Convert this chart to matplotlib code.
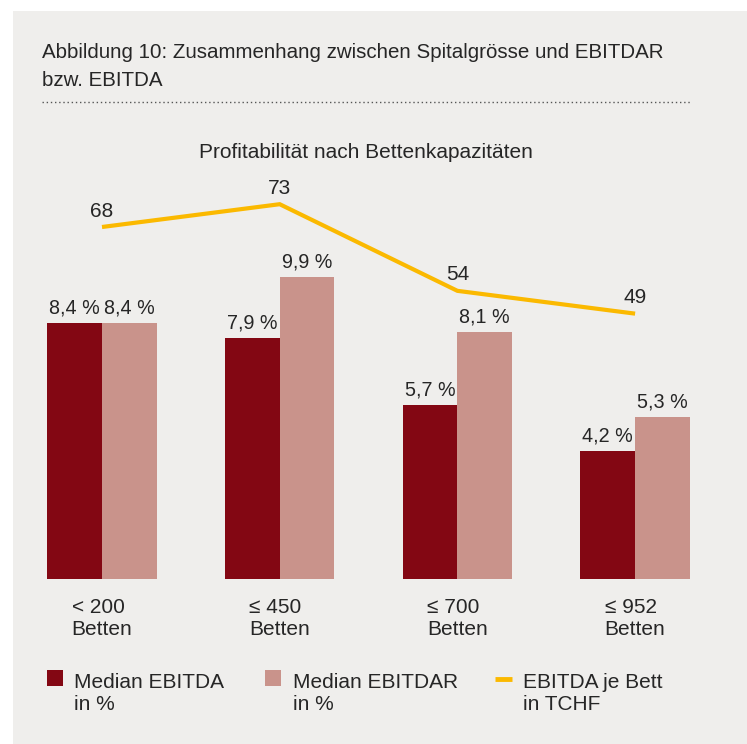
import matplotlib.pyplot as plt
from matplotlib.patches import Rectangle
from matplotlib.lines import Line2D
import numpy as np

categories = ["< 200\nBetten", "≤ 450\nBetten", "≤ 700\nBetten", "≤ 952\nBetten"]
ebitda = [8.4, 7.9, 5.7, 4.2]
ebitdar = [8.4, 9.9, 8.1, 5.3]
ebitda_bett = [68, 73, 54, 49]
legend_labels = ["Median EBITDA\nin %", "Median EBITDAR\nin %", "EBITDA je Bett\nin TCHF"]

dark = "#830713"
light = "#c9938b"
yellow = "#fbb900"
bg = "#efeeec"
txt = "#262626"
fs = 15

plt.rcParams["font.family"] = ["Liberation Sans", "DejaVu Sans"]

W, H = 747, 744
fig = plt.figure(figsize=(W / 100, H / 100), dpi=100)
fig.patch.set_facecolor("white")


def fx(px):
    return px / W


def fy(py):
    return 1 - py / H


# grey panel
fig.add_artist(Rectangle((fx(13), 0), 1 - fx(13), fy(11), transform=fig.transFigure,
                         facecolor=bg, edgecolor="none", zorder=-10))

fig.text(fx(42), fy(58), "Abbildung 10: Zusammenhang zwischen Spitalgrösse und EBITDAR",
         fontsize=14.8, color=txt, va="baseline", ha="left")
fig.text(fx(42), fy(86), "bzw. EBITDA", fontsize=14.8, color=txt, va="baseline", ha="left")
fig.add_artist(Line2D([fx(42), fx(692)], [fy(102), fy(102)], transform=fig.transFigure,
                      color="#555555", lw=1, linestyle=(0, (1, 2))))
fig.text(fx(366), fy(158), "Profitabilität nach Bettenkapazitäten", fontsize=fs,
         color=txt, va="baseline", ha="center")

ax = fig.add_axes([fx(30), fy(579), fx(720) - fx(30), fy(150) - fy(579)])
ax.set_facecolor("none")
x = np.arange(len(categories))
w = 0.308
ax.bar(x - w / 2, ebitda, w, color=dark)
ax.bar(x + w / 2, ebitdar, w, color=light)
for xi, v in zip(x, ebitda):
    ax.annotate(f"{v:.1f} %".replace(".", ","), (xi - w / 2, v), xytext=(0, 7),
                textcoords="offset points", ha="center", va="baseline",
                fontsize=14.2, color=txt)
for xi, v in zip(x, ebitdar):
    ax.annotate(f"{v:.1f} %".replace(".", ","), (xi + w / 2, v), xytext=(0, 7),
                textcoords="offset points", ha="center", va="baseline",
                fontsize=14.2, color=txt)

ax.set_xlim((30 - 102) / 177.7, (720 - 102) / 177.7)
ax.set_ylim(0, 429 / 30.5)
ax.set_xticks(x, categories)
for lab in ax.get_xticklabels():
    lab.set_multialignment("left")
    lab.set_fontsize(fs)
    lab.set_color(txt)
    lab.set_linespacing(1.15)
ax.tick_params(axis="x", length=0, pad=14)
ax.set_yticks([])
for s in ax.spines.values():
    s.set_visible(False)

ax2 = ax.twinx()
ax2.plot(x, ebitda_bett, color=yellow, lw=3, solid_capstyle="butt", solid_joinstyle="miter")
for xi, v in zip(x, ebitda_bett):
    ax2.annotate(str(v), (xi, v), xytext=(0, 7.5), textcoords="offset points",
                 ha="center", va="baseline", fontsize=fs, color=txt)
ax2.set_ylim(68 - 352 / 4.56, 68 + 77 / 4.56)
ax2.set_yticks([])
for s in ax2.spines.values():
    s.set_visible(False)

# legend
hx = [47, 265, 495]
tx = [74, 293, 523]
for i in range(2):
    fig.add_artist(Rectangle((fx(hx[i]), fy(686)), fx(16), fy(670) - fy(686),
                             transform=fig.transFigure, facecolor=[dark, light][i],
                             edgecolor="none"))
fig.add_artist(Line2D([fx(hx[2]), fx(hx[2] + 17)], [fy(679), fy(679)],
                      transform=fig.transFigure, color=yellow, lw=3.5,
                      solid_capstyle="butt"))
for i, lab in enumerate(legend_labels):
    fig.text(fx(tx[i]), fy(673), lab, fontsize=fs, color=txt, ha="left", va="top",
             linespacing=1.2)

fig.savefig("out.png", dpi=100, facecolor=fig.get_facecolor())
